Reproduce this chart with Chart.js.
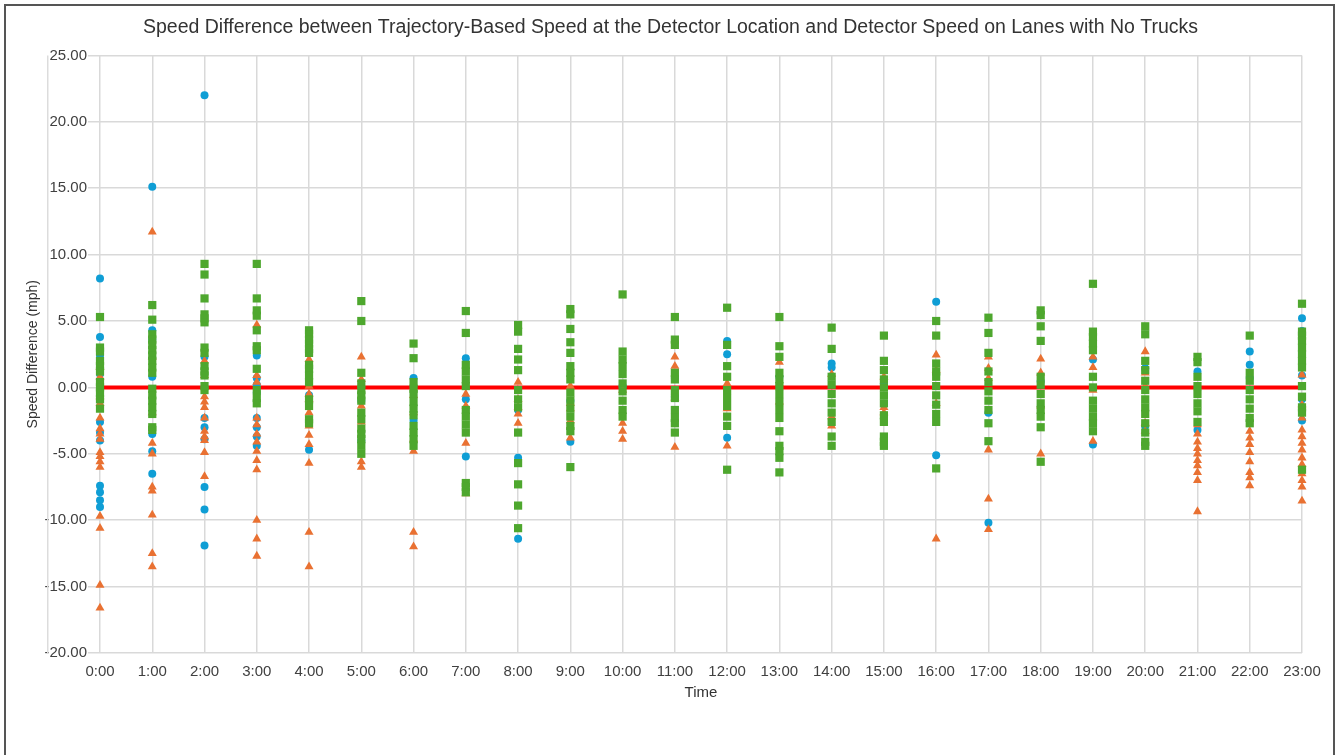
<!DOCTYPE html>
<html>
<head>
<meta charset="utf-8">
<title>Speed Difference by Hour</title>
<script src="https://cdn.jsdelivr.net/npm/chart.js@4.4.1/dist/chart.umd.min.js"></script>
<style>
    html, body { margin: 0; padding: 0; background: #fff; overflow: hidden; }
    #wrap { position: relative; width: 1341px; height: 755px; }
    #frame {
        position: absolute; left: 4px; top: 4px; width: 1331px; height: 800px;
        border: 2px solid #555; box-sizing: border-box; pointer-events: none;
    }
</style>
</head>
<body>
<div id="wrap">
    <canvas id="scatter-chart" width="1341" height="755"></canvas>
    <div id="frame"></div>
</div>
<script>
// Hours of the day (x values)
const hours = [0, 1, 2, 3, 4, 5, 6, 7, 8, 9, 10, 11, 12, 13, 14, 15, 16, 17, 18, 19, 20, 21, 22, 23];
const yTicks = [-20, -15, -10, -5, 0, 5, 10, 15, 20, 25];

// Speed differences (mph), one list per hour
const blueByHour = [
    [8.2, 3.8, 2.4, 1.0, -0.3, -2.6, -3.4, -4.0, -7.4, -7.9, -8.5, -9.0],
    [15.1, 4.3, 3.6, 0.8, -3.5, -4.8, -6.5],
    [22.0, 2.3, -2.3, -3.0, -3.9, -7.5, -9.2, -11.9],
    [2.4, 0.7, 0.2, -0.4, -2.3, -3.0, -3.7, -4.4],
    [3.2, -0.6, -4.7],
    [-1.0, -4.0],
    [0.7, -2.5],
    [2.2, -0.9, -5.2],
    [-1.7, -5.3, -11.4],
    [-1.0, -4.1],
    [0.1],
    [0.7, -0.7],
    [3.5, 2.5, -3.8],
    [0.8],
    [1.8, 1.5],
    [0.3],
    [6.45, -5.1],
    [-1.9, -10.2],
    [0.45],
    [2.1, -4.3],
    [1.45, -2.9],
    [1.2, -3.2],
    [2.7, 1.7, 0.7],
    [5.2, 4.25, 0.9, -0.9, -2.5]
];

const orangeByHour = [
    [1.5, 0.8, -0.7, -1.2, -2.3, -3.1, -3.5, -3.9, -4.9, -5.2, -5.6, -6.0, -9.7, -10.6, -14.9, -16.6],
    [11.7, 2.3, -1.9, -4.2, -5.0, -7.5, -7.8, -9.6, -12.5, -13.5],
    [2.0, 0.9, -0.7, -1.1, -1.5, -2.3, -3.3, -3.7, -4.0, -4.9, -6.7],
    [4.7, 0.9, 0.4, -2.3, -2.8, -3.5, -4.1, -4.8, -5.5, -6.2, -10.0, -11.4, -12.7],
    [2.1, 0.1, -0.5, -0.9, -1.9, -2.9, -3.6, -4.3, -5.7, -10.9, -13.5],
    [2.3, 0.6, -1.4, -2.6, -5.6, -6.0],
    [-0.6, -1.9, -3.9, -4.8, -10.9, -12.0],
    [-0.5, -1.4, -4.2, -8.0],
    [0.4, -0.9, -1.5, -2.0, -2.7],
    [0.1, -1.2, -1.6, -2.5, -3.8],
    [-0.2, -2.7, -3.3, -3.9],
    [2.3, 1.6, -0.8, -4.5],
    [0.3, -1.6, -4.4],
    [1.9, 0.3, -1.1],
    [1.0, -2.2, -2.9],
    [0.8, -1.5, -1.9],
    [2.45, 1.3, -1.2, -11.4],
    [2.3, 1.45, 0.7, -4.7, -8.4, -10.7],
    [2.15, 1.1, -1.4, -5.0],
    [2.3, 1.5, -0.2, -4.05],
    [2.7, 1.1, 0.1, -2.7, -3.3],
    [-2.8, -3.5, -4.1, -4.6, -5.0, -5.5, -5.9, -6.4, -7.0, -9.35],
    [-3.3, -3.8, -4.3, -4.9, -5.6, -6.4, -6.8, -7.4],
    [0.95, -1.3, -2.3, -3.2, -3.7, -4.2, -4.7, -5.3, -5.8, -6.5, -7.0, -7.5, -8.55]
];

const greenByHour = [
    [5.3, 3.0, 2.7, 2.0, 1.6, 1.2, 0.4, 0.0, -0.4, -0.9, -1.6],
    [6.2, 5.1, 4.0, 3.6, 3.2, 2.8, 2.4, 2.0, 1.5, 1.1, -0.1, -0.6, -1.0, -1.5, -2.0, -3.0, -3.2],
    [9.3, 8.5, 6.7, 5.5, 5.2, 4.9, 3.0, 2.6, 1.6, 1.2, 0.9, 0.1, -0.2],
    [9.3, 6.7, 5.8, 5.4, 4.3, 3.1, 2.8, 1.4, -0.2, -0.8, -1.2],
    [4.3, 4.0, 3.6, 3.3, 2.9, 2.6, 1.7, 1.4, 0.9, 0.4, -0.9, -1.4, -2.4, -2.7],
    [6.5, 5.0, 1.1, 0.3, -0.2, -0.6, -1.0, -1.9, -2.4, -3.1, -3.5, -3.9, -4.4, -5.0],
    [3.3, 2.2, 0.4, -0.1, -0.5, -1.1, -1.6, -2.1, -2.9, -3.4, -3.9, -4.4],
    [5.75, 4.1, 1.7, 1.2, 0.6, 0.1, -1.7, -2.2, -2.8, -3.4, -7.2, -7.5, -7.9],
    [4.7, 4.2, 2.9, 2.1, 1.3, -0.2, -0.9, -1.5, -3.4, -5.7, -7.3, -8.9, -10.6],
    [5.9, 5.5, 4.4, 3.4, 2.6, 1.6, 1.1, 0.6, -0.4, -1.0, -1.6, -2.2, -2.9, -3.3, -6.0],
    [7.0, 2.7, 2.1, 1.6, 1.0, 0.3, -0.3, -1.0, -1.7, -2.2],
    [5.3, 3.6, 3.2, 1.1, 0.6, -0.2, -0.8, -1.7, -2.3, -2.7, -3.4],
    [6.0, 3.2, 1.6, 0.8, -0.2, -0.8, -1.4, -2.2, -2.9, -6.2],
    [5.3, 3.1, 2.3, 1.1, 0.6, 0.1, -0.5, -1.1, -1.7, -2.3, -3.3, -4.4, -4.8, -5.3, -6.4],
    [4.5, 2.9, 0.8, 0.2, -0.5, -1.2, -1.9, -2.6, -3.7, -4.4],
    [3.9, 2.0, 1.3, 0.6, 0.0, -0.6, -1.2, -2.1, -2.6, -3.7, -4.1, -4.4],
    [5.0, 3.9, 1.8, 1.2, 0.8, 0.1, -0.6, -1.3, -2.0, -2.6, -6.1],
    [5.25, 4.1, 2.6, 1.2, 0.4, -0.3, -1.0, -1.7, -2.7, -4.05],
    [5.8, 5.45, 4.6, 3.5, 0.8, 0.2, -0.5, -1.2, -1.7, -2.2, -3.0, -5.6],
    [7.8, 4.2, 3.8, 3.3, 2.8, 0.8, 0.0, -1.0, -1.6, -2.2, -2.7, -3.3],
    [4.6, 4.0, 2.0, 1.3, 0.5, -0.2, -0.9, -1.5, -2.0, -2.7, -3.4, -4.1, -4.4],
    [2.3, 1.9, 0.8, 0.1, -0.5, -1.2, -1.8, -2.6],
    [3.9, 1.1, 0.5, -0.2, -0.9, -1.6, -2.3, -2.7],
    [6.3, 4.2, 3.9, 3.5, 3.0, 2.5, 2.0, 1.5, 0.1, -0.7, -1.5, -1.9, -6.2]
];

// Flatten hour lists into {x, y} points
const toPoints = (byHour) => hours.flatMap((h, i) => byHour[i].map(v => ({ x: h, y: v })));

// Faint extra gridline one hour-step left of 0:00
const leftGuide = {
    id: 'leftGuide',
    beforeDatasetsDraw(chart) {
        const { ctx, chartArea, scales } = chart;
        const step = scales.x.getPixelForValue(1) - scales.x.getPixelForValue(0);
        const x = chartArea.left - step;
        ctx.save();
        ctx.strokeStyle = '#dcdcdc';
        ctx.lineWidth = 1.5;
        ctx.beginPath();
        ctx.moveTo(x, chartArea.top);
        ctx.lineTo(x, chartArea.bottom);
        ctx.stroke();
        ctx.restore();
    }
};

window.addEventListener('load', () => {
    const canvas = document.getElementById('scatter-chart');
    const baseFont = "'Liberation Sans', Arial, sans-serif";

    new Chart(canvas, {
        type: 'scatter',
        data: {
            datasets: [{
                type: 'line',
                label: 'Zero',
                data: [{ x: hours[0], y: 0 }, { x: hours[hours.length - 1], y: 0 }],
                borderColor: '#ff0000',
                borderWidth: 4,
                pointRadius: 0,
                order: 4
            }, {
                label: 'Series 1',
                data: toPoints(blueByHour),
                backgroundColor: '#0f9ed5',
                borderWidth: 0,
                pointStyle: 'circle',
                pointRadius: 4,
                order: 3
            }, {
                label: 'Series 2',
                data: toPoints(orangeByHour),
                backgroundColor: '#e97132',
                borderWidth: 0,
                pointStyle: 'triangle',
                pointRadius: 5.2,
                order: 2
            }, {
                label: 'Series 3',
                data: toPoints(greenByHour),
                backgroundColor: '#4ea72e',
                borderWidth: 0,
                pointStyle: 'rect',
                pointRadius: 5.8,
                order: 1
            }]
        },
        options: {
            responsive: false,
            animation: false,
            events: [],
            clip: false,
            layout: {
                // equal side padding keeps the title centred on the page
                padding: { left: 39, right: 39, top: 8, bottom: 0 }
            },
            plugins: {
                legend: { display: false },
                tooltip: { enabled: false },
                title: {
                    display: true,
                    text: 'Speed Difference between Trajectory-Based Speed at the Detector Location and Detector Speed on Lanes with No Trucks',
                    color: '#333',
                    font: { family: baseFont, size: 19.5, weight: 'normal' },
                    padding: { top: 8, bottom: 16 }
                }
            },
            scales: {
                x: {
                    type: 'linear',
                    min: hours[0],
                    max: hours[hours.length - 1],
                    afterBuildTicks: (scale) => {
                        scale.ticks = hours.map(h => ({ value: h }));
                    },
                    afterFit: (scale) => { scale.height = 102; },
                    ticks: {
                        callback: (v) => `${v}:00`,
                        color: '#404040',
                        font: { family: baseFont, size: 15 },
                        padding: 10,
                        maxRotation: 0,
                        autoSkip: false
                    },
                    grid: { color: '#d9d9d9', lineWidth: 1.5, drawTicks: false },
                    border: { display: false },
                    title: {
                        display: true,
                        text: 'Time',
                        color: '#333',
                        font: { family: baseFont, size: 15 },
                        padding: { top: 0, bottom: 53 }
                    }
                },
                y: {
                    min: yTicks[0],
                    max: yTicks[yTicks.length - 1],
                    afterBuildTicks: (scale) => {
                        scale.ticks = yTicks.map(v => ({ value: v }));
                    },
                    afterFit: (scale) => { scale.width = 61; },
                    ticks: {
                        callback: (v) => v.toFixed(2),
                        color: '#404040',
                        font: { family: baseFont, size: 15 },
                        padding: 1
                    },
                    grid: { color: '#d9d9d9', lineWidth: 1.5, tickLength: 12 },
                    border: { display: false },
                    title: {
                        display: true,
                        text: 'Speed Difference (mph)',
                        color: '#333',
                        font: { family: baseFont, size: 14 },
                        padding: { top: -14, bottom: 0 }
                    }
                }
            }
        },
        plugins: [leftGuide]
    });
});
</script>
</body>
</html>
